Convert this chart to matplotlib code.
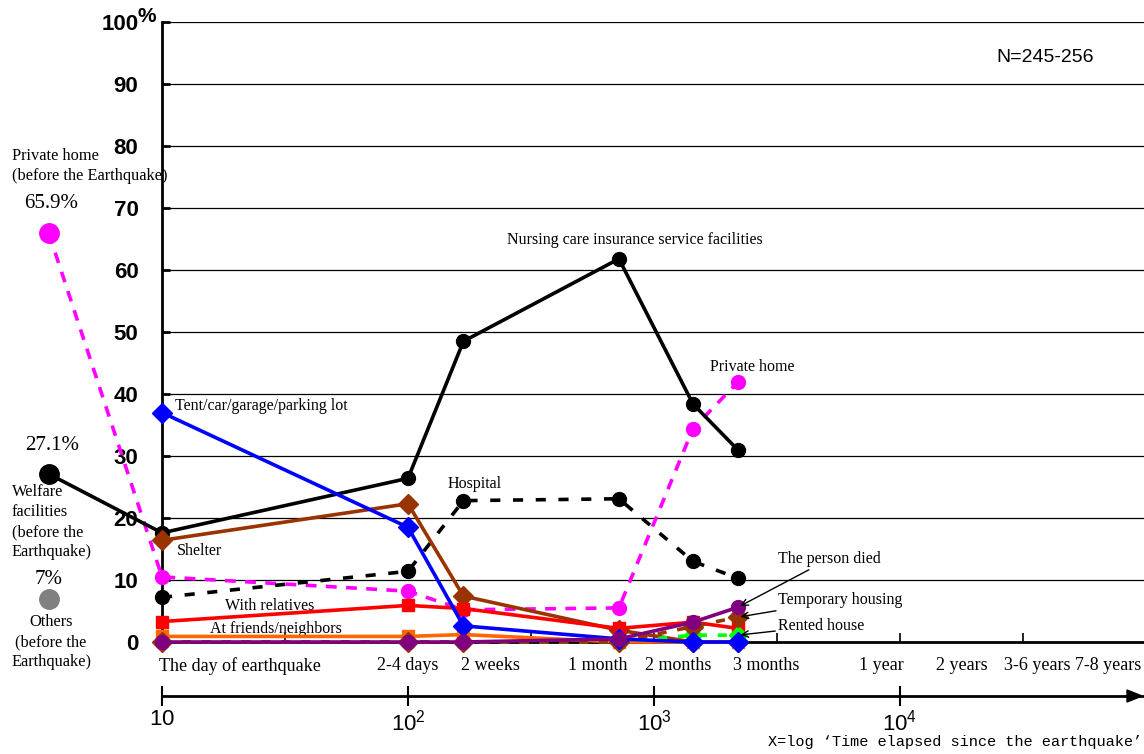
import numpy as np
import matplotlib
matplotlib.use("Agg")
import matplotlib.pyplot as plt
from matplotlib.ticker import NullFormatter, FixedLocator, NullLocator

plt.rcParams['font.family'] = ['Liberation Serif', 'DejaVu Serif']
plt.rcParams['mathtext.fontset'] = 'custom'
plt.rcParams['mathtext.rm'] = 'Liberation Sans'

# ---------------- data ----------------
hours = [10, 100, 168, 720, 1440, 2190]          # time elapsed (hours, log axis)
before_x = 10 ** 0.54                            # "before the earthquake" position

private_home_before = 65.9
private_home = [10.5, 8.2, 5.2, 5.5, 34.4, 41.9]
welfare_before = 27.1
nursing_care = [17.6, 26.4, 48.5, 61.8, 38.4, 31.0]
hospital = [7.2, 11.4, 22.8, 23.1, 13.0, 10.3]
tent_car = [37.0, 18.5, 2.6, 0.5, 0.0, 0.0]
shelter = [16.4, 22.3, 7.4, 1.9, 0.0, 0.0]
with_relatives = [3.3, 5.9, 5.4, 2.2, 3.2, 2.2]
friends = [0.9, 0.9, 1.2, 0.0, 0.0, 0.0]
temporary_housing = [0.0, 0.0, 0.0, 0.0, 2.5, 4.0]
rented_house = [0.0, 0.0, 0.0, 0.0, 1.1, 1.1]
person_died = [0.0, 0.0, 0.0, 0.5, 3.2, 5.6]
others_before = 7.0

y_ticks = [0, 10, 20, 30, 40, 50, 60, 70, 80, 90, 100]
period_labels = ["The day of earthquake", "2-4 days", "2 weeks", "1 month", "2 months",
                 "3 months", "1 year", "2 years", "3-6 years", "7-8 years"]
period_label_px = [240, 408, 490, 598, 678, 766, 881, 962, 1037, 1108]
log_ticks = [10, 100, 1000, 10000]
log_tick_labels = [r"$\mathregular{10}$", r"$\mathregular{10^2}$",
                   r"$\mathregular{10^3}$", r"$\mathregular{10^4}$"]

# ---------------- layout ----------------
W, H = 1144, 754
fig = plt.figure(figsize=(W / 100, H / 100), dpi=100)
X0, X1, Y0, Y1 = 162, 1144, 642, 22
ax = fig.add_axes([X0 / W, 1 - Y0 / H, (X1 - X0) / W, (Y0 - Y1) / H])
DEC = 246.0
xmax = 10 ** (1 + (X1 - X0) / DEC)
SANS = ['Liberation Sans', 'DejaVu Sans']


def xd(px):
    return 10 ** (1 + (px - X0) / DEC)


def yd(py):
    return (Y0 - py) / 6.2


ax.set_xscale('log')
ax.set_xlim(10, xmax)
ax.set_ylim(0, 100)

for s in ['top', 'right']:
    ax.spines[s].set_visible(False)
ax.spines['left'].set_linewidth(2)
ax.spines['bottom'].set_linewidth(2)
ax.set_yticks(y_ticks)
ax.set_yticklabels([str(v) for v in y_ticks])
ax.tick_params(axis='y', direction='in', length=6, width=2, pad=17,
               labelsize=16)
for lab in ax.get_yticklabels():
    lab.set_fontfamily(SANS)
    lab.set_fontweight('bold')
ax.xaxis.set_major_locator(FixedLocator([10 ** (1 + 0.5 * k) for k in range(9)]))
ax.xaxis.set_minor_locator(NullLocator())
ax.xaxis.set_major_formatter(NullFormatter())
ax.tick_params(axis='x', direction='in', length=6.5, width=1.2)
for v in y_ticks[1:]:
    ax.axhline(v, color='black', lw=0.9, zorder=1)

fig.text(137 / W, 1 - 16 / H, "%", fontsize=15, fontweight='bold',
         family=SANS, ha='left', va='center')

LW = 2.6
# series
ax.plot([before_x] + hours, [private_home_before] + private_home, color='#FF00FF', lw=LW,
        dashes=(3, 2.6), marker='o', ms=10, clip_on=False, zorder=3)
ax.plot([before_x], [private_home_before], 'o', color='#FF00FF', ms=14, clip_on=False, zorder=3)
ax.plot(hours, hospital, color='black', lw=LW, dashes=(2.8, 3.5), marker='o', ms=10,
        clip_on=False, zorder=4)
ax.plot([before_x] + hours, [welfare_before] + nursing_care, color='black', lw=LW,
        marker='o', ms=10, clip_on=False, zorder=4)
ax.plot([before_x], [welfare_before], 'o', color='black', ms=14, clip_on=False, zorder=4)
ax.plot([before_x], [others_before], 'o', color='#808080', ms=14, clip_on=False, zorder=4)
ax.plot(hours, shelter, color='#993300', lw=LW, marker='D', ms=10, clip_on=False, zorder=5)
ax.plot(hours, friends, color='#FF6600', lw=LW, marker='s', ms=9, clip_on=False, zorder=5)
ax.plot(hours, with_relatives, color='#FF0000', lw=LW, marker='s', ms=9, clip_on=False, zorder=6)
ax.plot(hours, rented_house, color='#00FF00', lw=LW, dashes=(2.5, 3), marker='D', ms=9,
        clip_on=False, zorder=6)
ax.plot(hours, temporary_housing, color='#993300', lw=LW, dashes=(2.5, 3), marker='D', ms=10,
        clip_on=False, zorder=6)
ax.plot(hours, tent_car, color='#0000FF', lw=LW, marker='D', ms=10, clip_on=False, zorder=7)
ax.plot(hours, person_died, color='#800080', lw=LW, marker='o', ms=10, clip_on=False, zorder=8)

# annotations inside plot
TS = 11.5
ax.text(xd(635), yd(240), "Nursing care insurance service facilities", fontsize=TS, ha='center', va='center')
ax.text(xd(752), yd(367), "Private home", fontsize=TS, ha='center', va='center')
ax.text(xd(175), yd(406), "Tent/car/garage/parking lot", fontsize=TS, ha='left', va='center')
ax.text(xd(448), yd(484), "Hospital", fontsize=TS, ha='left', va='center')
ax.text(xd(177), yd(551), "Shelter", fontsize=TS, ha='left', va='center')
ax.text(xd(225), yd(606), "With relatives", fontsize=TS, ha='left', va='center', zorder=2)
ax.text(xd(210), yd(629), "At friends/neighbors", fontsize=TS, ha='left', va='center', zorder=2)

arrow = dict(arrowstyle='->', color='black', lw=1.0, shrinkA=0, shrinkB=2)
ax.annotate("The person died", xy=(hours[-1], person_died[-1]), xytext=(xd(778), yd(559)),
            fontsize=TS, ha='left', va='center', arrowprops=arrow, zorder=9,
            annotation_clip=False)
ax.annotate("Temporary housing", xy=(hours[-1], temporary_housing[-1]), xytext=(xd(778), yd(600)),
            fontsize=TS, ha='left', va='center', arrowprops=arrow, zorder=9,
            annotation_clip=False)
ax.annotate("Rented house", xy=(hours[-1], rented_house[-1]), xytext=(xd(778), yd(626)),
            fontsize=TS, ha='left', va='center', arrowprops=arrow, zorder=9,
            annotation_clip=False)

ax.text(xd(1045), yd(58), "N=245-256", fontsize=14, ha='center', va='center', family=SANS)

# period labels
for lab, px in zip(period_labels, period_label_px):
    ax.text(xd(px), yd(666), lab, fontsize=13, ha='center', va='center', clip_on=False)

# left side texts
LS = 11.8
fig.text(12 / W, 1 - 156 / H, "Private home", fontsize=LS, ha='left', va='center')
fig.text(12 / W, 1 - 176 / H, "(before the Earthquake)", fontsize=LS, ha='left', va='center')
fig.text(51 / W, 1 - 203 / H, "65.9%", fontsize=15, ha='center', va='center')
fig.text(52 / W, 1 - 445 / H, "27.1%", fontsize=15, ha='center', va='center')
fig.text(12 / W, 1 - 522 / H, "Welfare\nfacilities\n(before the\nEarthquake)", fontsize=LS,
         ha='left', va='center', linespacing=1.35)
fig.text(49 / W, 1 - 580 / H, "7%", fontsize=15, ha='center', va='center')
fig.text(51 / W, 1 - 642 / H, "Others\n(before the\nEarthquake)", fontsize=LS,
         ha='center', va='center', multialignment='center', linespacing=1.35)

# secondary log axis
ax2 = fig.add_axes([X0 / W, 1 - 696 / H, (X1 - X0) / W, 0.0001])
ax2.set_xscale('log')
ax2.set_xlim(10, xmax)
ax2.set_yticks([])
for s in ['top', 'right', 'left']:
    ax2.spines[s].set_visible(False)
ax2.spines['bottom'].set_linewidth(2)
ax2.xaxis.set_major_locator(FixedLocator(log_ticks))
ax2.xaxis.set_minor_locator(NullLocator())
ax2.set_xticklabels(log_tick_labels)
for lab in ax2.get_xticklabels():
    lab.set_fontfamily(SANS)
ax2.tick_params(axis='x', direction='inout', length=15, width=1.5, pad=2, labelsize=16)
ax2.set_facecolor('none')
fig.patches.append(matplotlib.patches.FancyArrow(1125 / W, 1 - 696 / H, 17 / W, 0,
                   width=0.0, head_width=12 / H, head_length=15 / W, length_includes_head=True,
                   color='black', transform=fig.transFigure, figure=fig))

fig.text(1142 / W, 1 - 742 / H, "X=log \u2018Time elapsed since the earthquake\u2019",
         fontsize=11, ha='right', va='center', family=['Liberation Mono', 'DejaVu Sans Mono'])

fig.savefig("out.png", dpi=100)
